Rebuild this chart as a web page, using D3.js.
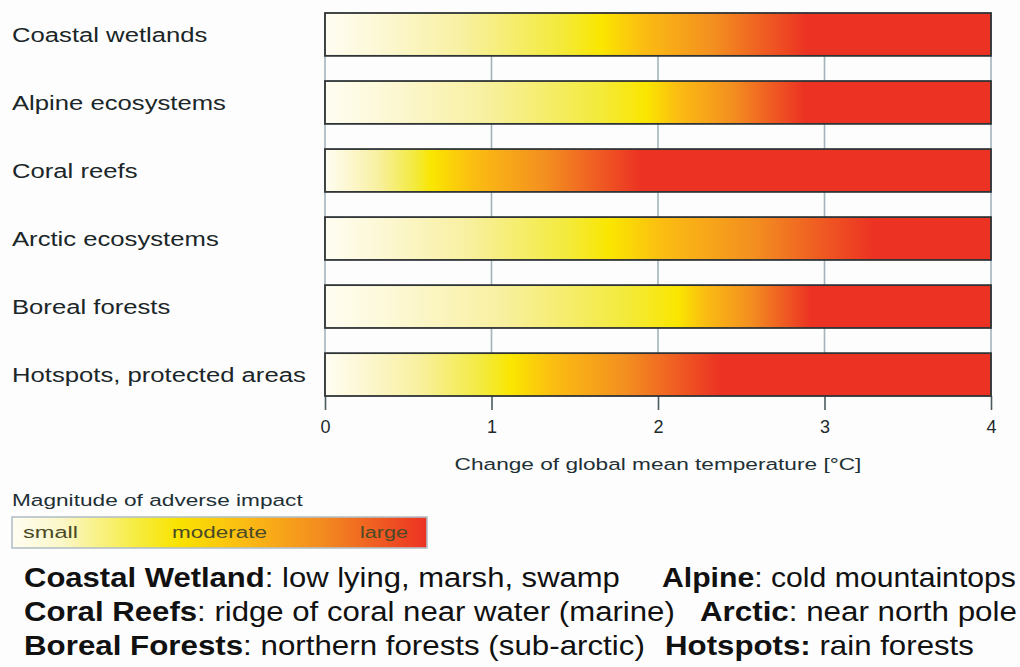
<!DOCTYPE html>
<html>
<head>
<meta charset="utf-8">
<script src="https://cdn.jsdelivr.net/npm/d3@7"></script>
<style>
  body { margin: 0; background: #fdfdfd; }
  svg { display: block; font-family: "Liberation Sans", Arial, sans-serif; }
</style>
</head>
<body>
<div id="chart"></div>
<script>
// Systems and where their impact becomes moderate / large (°C)
const systems = ["Coastal wetlands", "Alpine ecosystems", "Coral reefs", "Arctic ecosystems", "Boreal forests", "Hotspots, protected areas"];
const moderateAt = [1.66, 1.93, 0.64, 1.71, 2.12, 1.12];
const largeAt = [2.9, 2.88, 1.9, 3.3, 2.92, 2.38];
const ticks = [0, 1, 2, 3, 4];
const legendLabels = ["small", "moderate", "large"];

// Bottom definitions: [bold term, description]
const notes = [
    [["Coastal Wetland", ": low lying, marsh, swamp"], ["Alpine", ": cold mountaintops"]],
    [["Coral Reefs", ": ridge of coral near water (marine)"], ["Arctic", ": near north pole"]],
    [["Boreal Forests", ": northern forests (sub-arctic)"], ["Hotspots:", " rain forests"]]
];

const W = 1020, H = 667;
const svg = d3.select("#chart").append("svg")
    .attr("width", W)
    .attr("height", H);

const defs = svg.append("defs");

// stretch a text element horizontally so it spans targetWidth, anchored at ax
function fitWidth(sel, targetWidth, ax) {
    const w = sel.node().getComputedTextLength();
    const k = targetWidth / w;
    sel.attr("transform", `translate(${ax},0) scale(${k},1) translate(${-ax},0)`);
    return k;
}

// Scales
const x = d3.scaleLinear().domain([0, 4]).range([325, 991]);
const y = d3.scaleBand().domain(systems).range([13, 396]).paddingInner(0.37).paddingOuter(0);

// Grid lines
svg.append("g")
    .selectAll("line")
    .data(ticks)
    .join("line")
    .attr("x1", d => x(d))
    .attr("x2", d => x(d))
    .attr("y1", y.range()[0])
    .attr("y2", y.range()[1])
    .attr("stroke", "#a3b3bb")
    .attr("stroke-width", 1.6);

// Axis ticks (no domain line)
const axis = svg.append("g")
    .attr("transform", `translate(0,${y.range()[1]})`)
    .call(d3.axisBottom(x).tickValues(ticks).tickSize(14).tickFormat(d3.format("d")));
axis.select(".domain").remove();
axis.selectAll(".tick line").attr("stroke", "#4a5a60").attr("stroke-width", 1.6);
axis.selectAll(".tick text")
    .attr("y", 24)
    .attr("dy", "0.71em")
    .attr("font-size", 18)
    .attr("font-family", "Liberation Sans, Arial, sans-serif")
    .attr("fill", "#1e2a2c");

const axisTitle = svg.append("text")
    .attr("x", x(2))
    .attr("y", 470)
    .attr("text-anchor", "middle")
    .attr("font-size", 17)
    .attr("fill", "#1e3035")
    .text("Change of global mean temperature [°C]");
fitWidth(axisTitle, 407, x(2));

// Per-bar gradients
function frac(v) { return (x(v) - x(0)) / (x(4) - x(0)); }

systems.forEach((s, i) => {
    const m = moderateAt[i], l = largeAt[i];
    const g = defs.append("linearGradient")
        .attr("id", "grad" + i)
        .attr("x1", "0%").attr("x2", "100%").attr("y1", "0%").attr("y2", "0%");
    const stops = [
        [0, "#fffdf2"],
        [m * 0.15, "#fdf9dc"],
        [m * 0.5, "#f8f0a0"],
        [m * 0.85, "#f3ea3c"],
        [m, "#fae600"],
        [m + (l - m) * 0.2, "#fbbd12"],
        [m + (l - m) * 0.55, "#f38e20"],
        [m + (l - m) * 0.8, "#ef5a22"],
        [l, "#ec3223"],
        [4, "#ec3223"]
    ];
    stops.forEach(([v, c]) => {
        g.append("stop").attr("offset", frac(v)).attr("stop-color", c);
    });
});

// Bars
svg.append("g")
    .selectAll("rect")
    .data(systems)
    .join("rect")
    .attr("x", x(0))
    .attr("y", d => y(d))
    .attr("width", x(4) - x(0))
    .attr("height", y.bandwidth())
    .attr("fill", (d, i) => `url(#grad${i})`)
    .attr("stroke", "#2f3436")
    .attr("stroke-width", 1.8);

// Category labels
const labels = svg.append("g")
    .selectAll("text")
    .data(systems)
    .join("text")
    .attr("x", 12)
    .attr("y", d => y(d) + y.bandwidth() / 2)
    .attr("dy", "0.36em")
    .attr("font-size", 21)
    .attr("fill", "#1a2628")
    .text(d => d);
// same horizontal stretch for all labels, from the longest one
const lastLabel = labels.filter((d, i) => i === systems.length - 1);
const kLab = 294 / lastLabel.node().getComputedTextLength();
labels.attr("transform", `translate(12,0) scale(${kLab},1) translate(-12,0)`);

// Legend
const legendTitle = svg.append("text")
    .attr("x", 12)
    .attr("y", 506)
    .attr("font-size", 17)
    .attr("fill", "#1e3035")
    .text("Magnitude of adverse impact");
fitWidth(legendTitle, 291, 12);

const lg = defs.append("linearGradient")
    .attr("id", "legendGrad")
    .attr("x1", "0%").attr("x2", "100%").attr("y1", "0%").attr("y2", "0%");
[[0, "#fffdf2"], [0.12, "#fbf7c8"], [0.3, "#f6ec40"], [0.4, "#f9e300"], [0.55, "#fbbe12"], [0.75, "#f38a20"], [1, "#ec3223"]]
    .forEach(([o, c]) => lg.append("stop").attr("offset", o).attr("stop-color", c));

const legendX = d3.scaleLinear().domain([0, 1]).range([12, 427]);
svg.append("rect")
    .attr("x", legendX(0))
    .attr("y", 517)
    .attr("width", legendX(1) - legendX(0))
    .attr("height", 31)
    .attr("fill", "url(#legendGrad)")
    .attr("stroke", "#b3c0c6")
    .attr("stroke-width", 1.6);

const legendPos = [[23, 55], [172, 95], [360, 48]];
svg.append("g")
    .selectAll("text")
    .data(legendLabels)
    .join("text")
    .attr("x", (d, i) => legendPos[i][0])
    .attr("y", 538)
    .attr("font-size", 17)
    .attr("fill", "#4a4a26")
    .text(d => d)
    .each(function(d, i) { fitWidth(d3.select(this), legendPos[i][1], legendPos[i][0]); });

// Notes
const noteX = [[24, 662], [24, 700], [24, 665]];
const noteW = [[596, 354], [651, 317], [621, 309]];
const noteY = [587, 621, 655];
notes.forEach((line, li) => {
    line.forEach((seg, si) => {
        const t = svg.append("text")
            .attr("x", noteX[li][si])
            .attr("y", noteY[li])
            .attr("font-size", 28)
            .attr("fill", "#111");
        t.append("tspan").attr("font-weight", "bold").text(seg[0]);
        t.append("tspan").text(seg[1]);
        fitWidth(t, noteW[li][si], noteX[li][si]);
    });
});
</script>
</body>
</html>
